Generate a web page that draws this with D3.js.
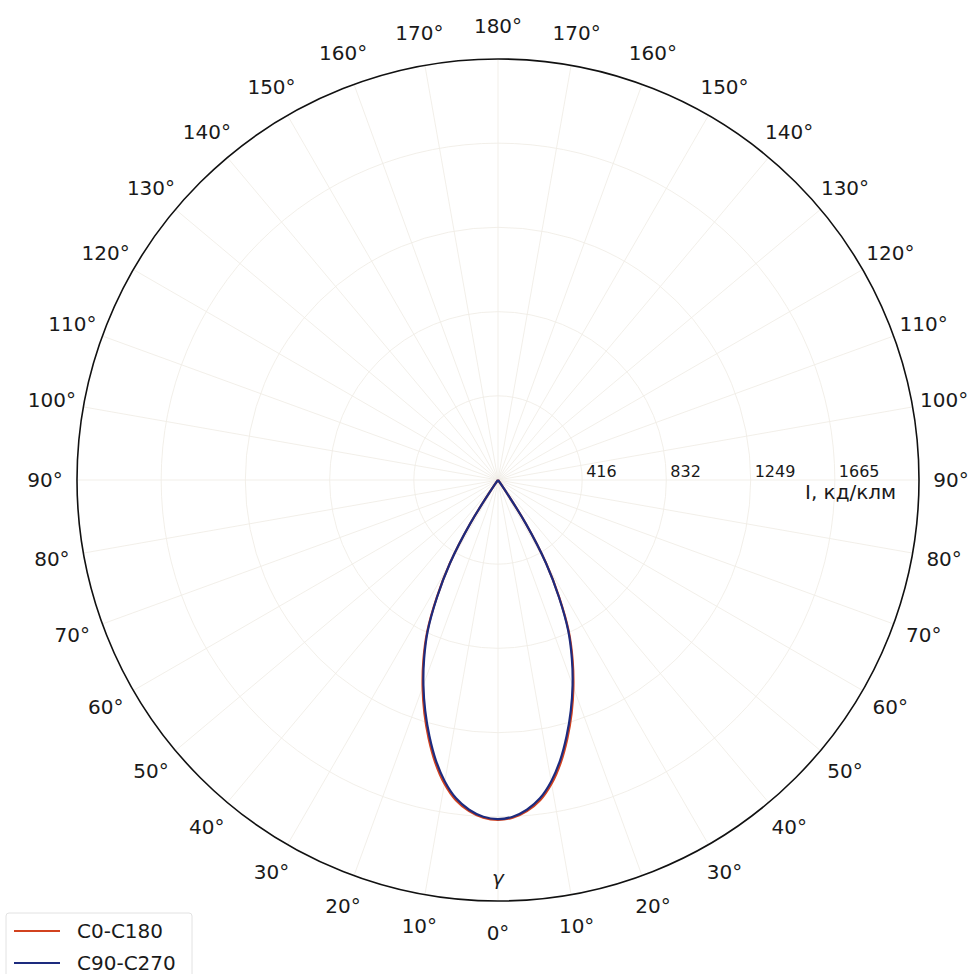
<!DOCTYPE html>
<html>
<head>
<meta charset="utf-8">
<script src="https://cdn.jsdelivr.net/npm/d3@7"></script>
<style>
  body { margin: 0; background: #fff; }
  text { font-family: "DejaVu Sans", sans-serif; fill: #1a1a1a; }
</style>
</head>
<body>
<div id="chart"></div>
<script>
// gamma angles, degrees (0 = straight down)
var gammas = [0, 2.5, 5, 7.5, 10, 12.5, 15, 17.5, 20, 22.5, 25, 27.5, 30, 32.5, 35, 37.5,
  40, 50, 60, 70, 80, 90, 100, 110, 120, 130, 140, 150, 160, 170, 180];
// intensity, cd/klm
var c0c180 = [1680, 1671, 1643, 1597, 1525, 1432, 1324, 1210, 1090, 964, 829, 657, 478, 259, 30, 0,
  0, 0, 0, 0, 0, 0, 0, 0, 0, 0, 0, 0, 0, 0, 0];
var c90c270 = [1676, 1666, 1636, 1587, 1513, 1419, 1310, 1196, 1078, 954, 821, 652, 475, 257, 30, 0,
  0, 0, 0, 0, 0, 0, 0, 0, 0, 0, 0, 0, 0, 0, 0];
var rTicks = [416, 832, 1249, 1665];
var rMax = 2081;
var angleTicks = [0, 10, 20, 30, 40, 50, 60, 70, 80, 90, 100, 110, 120, 130, 140, 150, 160, 170, 180];
var seriesNames = ["C0-C180", "C90-C270"];
var seriesColors = ["#d2421f", "#1d2b7e"];

var width = 974, height = 974;
var cx = 498, cy = 480, radius = 421;

var svg = d3.select("#chart").append("svg")
  .attr("width", width)
  .attr("height", height);

var r = d3.scaleLinear().domain([0, rMax]).range([0, radius]);
var toRad = function (g) { return g * Math.PI / 180; };

var g = svg.append("g").attr("transform", "translate(" + cx + "," + cy + ")");

// grid circles
g.selectAll(".ring")
  .data(rTicks)
  .enter().append("circle")
  .attr("r", function (d) { return r(d); })
  .attr("fill", "none")
  .attr("stroke", "#f0ede6")
  .attr("stroke-width", 0.9);

// spokes, both halves
var spokeAngles = d3.range(0, 360, 10);
g.selectAll(".spoke")
  .data(spokeAngles)
  .enter().append("line")
  .attr("x1", 0).attr("y1", 0)
  .attr("x2", function (d) { return radius * Math.sin(toRad(d)); })
  .attr("y2", function (d) { return radius * Math.cos(toRad(d)); })
  .attr("stroke", "#f0ede6")
  .attr("stroke-width", 0.9);

// outer circle
g.append("circle")
  .attr("r", radius)
  .attr("fill", "none")
  .attr("stroke", "#111")
  .attr("stroke-width", 1.6);

// angle labels on both sides
var labelR = 453;
var labelData = [];
angleTicks.forEach(function (a) {
  labelData.push({ a: a, side: 1 });
  if (a !== 0 && a !== 180) labelData.push({ a: a, side: -1 });
});
g.selectAll(".alabel")
  .data(labelData)
  .enter().append("text")
  .attr("x", function (d) { return d.side * labelR * Math.sin(toRad(d.a)); })
  .attr("y", function (d) { return labelR * Math.cos(toRad(d.a)) + (d.a > 90 ? -1 : 0); })
  .attr("text-anchor", "middle")
  .attr("dominant-baseline", "central")
  .style("font-size", "20px")
  .text(function (d) { return d.a + "°"; });

// radial tick labels
g.selectAll(".rlabel")
  .data(rTicks)
  .enter().append("text")
  .attr("x", function (d) { return r(d) + 4; })
  .attr("y", -3)
  .style("font-size", "16px")
  .text(function (d) { return d; });

g.append("text")
  .attr("x", 307).attr("y", 19)
  .style("font-size", "20px")
  .text("I, кд/клм");

g.append("text")
  .attr("x", 0).attr("y", 405)
  .attr("text-anchor", "middle")
  .style("font-size", "20px")
  .style("font-style", "italic")
  .text("γ");

// curves: left half (C180 / C270) then right half (C0 / C90)
var line = d3.lineRadial()
  .angle(function (d) { return d.a; })
  .radius(function (d) { return r(d.v); })
  .curve(d3.curveCatmullRom.alpha(0.5));

function buildPts(vals) {
  var pts = [];
  for (var i = gammas.length - 1; i >= 0; i--) pts.push({ a: Math.PI + toRad(gammas[i]), v: vals[i] });
  for (var j = 1; j < gammas.length; j++) pts.push({ a: Math.PI - toRad(gammas[j]), v: vals[j] });
  return pts;
}

var seriesData = [c0c180, c90c270];
g.selectAll(".curve")
  .data(seriesData)
  .enter().append("path")
  .attr("d", function (d) { return line(buildPts(d)); })
  .attr("fill", "none")
  .attr("stroke", function (d, i) { return seriesColors[i]; })
  .attr("stroke-width", 2.2)
  .attr("stroke-linejoin", "round");

// legend
var legend = svg.append("g").attr("transform", "translate(6,913)");
legend.append("rect")
  .attr("width", 186).attr("height", 70)
  .attr("rx", 3)
  .attr("fill", "#fff")
  .attr("fill-opacity", 0.8)
  .attr("stroke", "#e2e2e2");
var items = legend.selectAll(".item")
  .data(seriesNames)
  .enter().append("g")
  .attr("transform", function (d, i) { return "translate(0," + (18 + i * 32) + ")"; });
items.append("line")
  .attr("x1", 8).attr("x2", 54)
  .attr("stroke", function (d, i) { return seriesColors[i]; })
  .attr("stroke-width", 2.2);
items.append("text")
  .attr("x", 71)
  .attr("dominant-baseline", "central")
  .style("font-size", "20px")
  .text(function (d) { return d; });
</script>
</body>
</html>
